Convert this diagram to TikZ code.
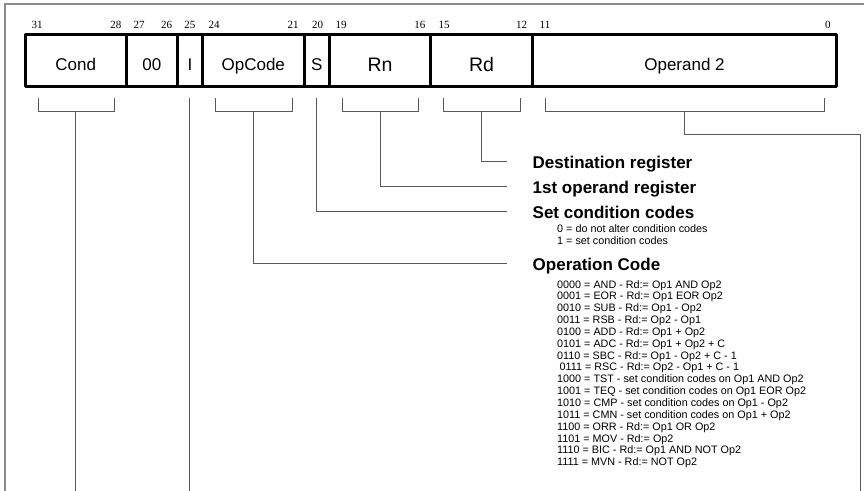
\documentclass[tikz,border=0pt]{standalone}
\usepackage{fontspec}
\setmainfont{Liberation Sans}
\newfontfamily\numfont{Liberation Serif}
\begin{document}
\begin{tikzpicture}[x=1pt,y=-1pt,
  cell/.style={draw, line width=3pt, minimum height=52pt, inner sep=0pt, outer sep=0pt, line join=round},
  field/.style={font=\fontsize{17}{20}\selectfont, inner sep=0pt, anchor=base},
  bigfield/.style={font=\fontsize{19.5}{22}\selectfont, inner sep=0pt, anchor=base},
  bitn/.style={font=\numfont\fontsize{11}{12}\selectfont, inner sep=0pt},
  conn/.style={draw=black!65, line width=1pt},
  frameline/.style={draw=black!45, line width=1.2pt},
  head/.style={font=\bfseries\fontsize{17}{20}\selectfont, anchor=west, inner sep=0pt, text height=15pt, text depth=0.5pt},
  small/.style={font=\fontsize{10.8}{12}\selectfont, anchor=base west, inner sep=0pt}]
\useasboundingbox (0,0) rectangle (864,490);

% outer frame
\coordinate (fbl) at (5,492);
\coordinate (ftl) at (5,4);
\coordinate (ftr) at (866,4);
\draw[frameline] (fbl) -- (ftl) -- (ftr);
\coordinate (bot) at (0,492);

% register cells
\node[cell, minimum width=101.46pt] (cond) at (75.73,60.5) {};
\node[cell, minimum width=50.73pt]  (zz)   at (151.83,60.5) {};
\node[cell, minimum width=25.37pt]  (ibit) at (189.88,60.5) {};
\node[cell, minimum width=101.46pt] (opc)  at (253.29,60.5) {};
\node[cell, minimum width=25.36pt]  (sbit) at (316.70,60.5) {};
\node[cell, minimum width=101.46pt] (rn)   at (380.11,60.5) {};
\node[cell, minimum width=101.46pt] (rd)   at (481.57,60.5) {};
\node[cell, minimum width=304.38pt] (op2)  at (684.49,60.5) {};

% field names
\node[field] (condT) at ([yshift=-10pt]cond.center) {Cond};
\node[field] (zzT)   at ([yshift=-10pt]zz.center) {00};
\node[field] (ibitT) at ([yshift=-10pt]ibit.center) {I};
\node[field] (opcT)  at ([yshift=-10pt]opc.center) {OpCode};
\node[field] (sbitT) at ([yshift=-10pt]sbit.center) {S};
\node[bigfield] (rnT) at ([yshift=-11pt]rn.center) {Rn};
\node[bigfield] (rdT) at ([yshift=-11pt]rd.center) {Rd};
\node[field] (op2T)  at ([yshift=-10pt]op2.center) {Operand 2};

% bit numbers
\node[bitn, anchor=base west] (b31) at (31.5,28.5) {31};
\node[bitn, anchor=base east] (b28) at (121.5,28.5) {28};
\node[bitn, anchor=base west] (b27) at (133.5,28.5) {27};
\node[bitn, anchor=base east] (b26) at (172.2,28.5) {26};
\node[bitn, anchor=base] (b25) at (189.9,28.5) {25};
\node[bitn, anchor=base west] (b24) at (208.5,28.5) {24};
\node[bitn, anchor=base east] (b21) at (298.8,28.5) {21};
\node[bitn, anchor=base] (b20) at (317.5,28.5) {20};
\node[bitn, anchor=base west] (b19) at (335.5,28.5) {19};
\node[bitn, anchor=base east] (b16) at (425.5,28.5) {16};
\node[bitn, anchor=base west] (b15) at (438.5,28.5) {15};
\node[bitn, anchor=base east] (b12) at (527.2,28.5) {12};
\node[bitn, anchor=base west] (b11) at (539.5,28.5) {11};
\node[bitn, anchor=base east] (b0) at (830.8,28.5) {0};

% description headings
\node[head] (destname)  at (532.5,161) {Destination register};
\node[head] (firstname) at (532.5,186.5) {1st operand register};
\node[head] (setname)   at (532.5,211) {Set condition codes};
\node[head] (opname)    at (532.5,263) {Operation Code};

% small texts
\node[small] (s0) at (557,232) {0 = do not alter condition codes};
\node[small] (s1) at (557,244.5) {1 = set condition codes};
\foreach \t/\dx [count=\i] in {
  {0000 = AND - Rd:= Op1 AND Op2}/0,
  {0001 = EOR - Rd:= Op1 EOR Op2}/0,
  {0010 = SUB - Rd:= Op1 - Op2}/0,
  {0011 = RSB - Rd:= Op2 - Op1}/0,
  {0100 = ADD - Rd:= Op1 + Op2}/0,
  {0101 = ADC - Rd:= Op1 + Op2 + C}/0,
  {0110 = SBC - Rd:= Op1 - Op2 + C - 1}/0,
  {0111 = RSC - Rd:= Op2 - Op1 + C - 1}/2.5,
  {1000 = TST - set condition codes on Op1 AND Op2}/0,
  {1001 = TEQ - set condition codes on Op1 EOR Op2}/0,
  {1010 = CMP - set condition codes on Op1 - Op2}/0,
  {1011 = CMN - set condition codes on Op1 + Op2}/0,
  {1100 = ORR - Rd:= Op1 OR Op2}/0,
  {1101 = MOV - Rd:= Op2}/0,
  {1110 = BIC - Rd:= Op1 AND NOT Op2}/0,
  {1111 = MVN - Rd:= NOT Op2}/0}
  \node[small] (code\i) at (557+\dx,288+\i*11.85-11.85) {\t};

% brackets
\foreach \f in {cond,opc,rn,rd,op2}
  \draw[conn] ([xshift=13pt,yshift=-11.5pt]\f.south west) -- ++(0,13)
     -| ([xshift=-12pt,yshift=-11.5pt]\f.south east);

% connectors
\draw[conn] ([yshift=-24.5pt]cond.south) -- (cond.south |- bot);
\draw[conn] ([yshift=-11.5pt]ibit.south) -- (ibit.south |- bot);
\draw[conn] ([yshift=-24.5pt]opc.south) |- ([xshift=-25.5pt]opname.west);
\draw[conn] ([yshift=-11.5pt]sbit.south) |- ([xshift=-25.5pt]setname.west);
\draw[conn] ([yshift=-24.5pt]rn.south) |- ([xshift=-25.5pt]firstname.west);
\draw[conn] ([yshift=-24.5pt]rd.south) |- ([xshift=-25.5pt]destname.west);
\coordinate (op2turn) at (860.5,134.3);
\draw[conn] ([yshift=-24.5pt]op2.south) |- (op2turn) -- (op2turn |- bot);
\end{tikzpicture}
\end{document}
